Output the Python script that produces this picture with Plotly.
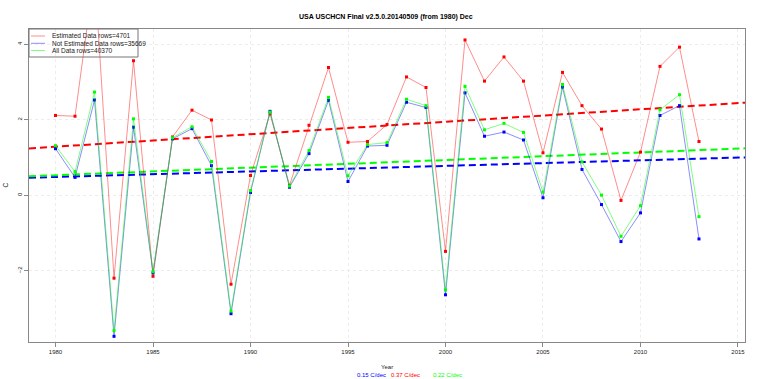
import numpy as np
import plotly.graph_objects as go

years = list(range(1980, 2014))

estimated = [2.11, 2.09, 5.9, -2.20, 3.56, -2.15, 1.54, 2.25, 1.99, -2.36,
             0.52, 2.15, 0.26, 1.85, 3.38, 1.40, 1.42, 1.87, 3.13, 2.85,
             -1.49, 4.11, 3.02, 3.66, 3.02, 1.12, 3.25, 2.37, 1.75, -0.14,
             1.14, 3.41, 3.92, 1.42]
not_estimated = [1.23, 0.47, 2.52, -3.74, 1.80, -2.06, 1.49, 1.76, 0.78, -3.14,
                 0.07, 2.22, 0.21, 1.10, 2.51, 0.36, 1.30, 1.32, 2.46, 2.32,
                 -2.64, 2.71, 1.56, 1.67, 1.46, -0.07, 2.86, 0.68, -0.25, -1.23,
                 -0.47, 2.11, 2.37, -1.16]
all_data = [1.31, 0.62, 2.73, -3.59, 2.02, -2.03, 1.52, 1.81, 0.89, -3.07,
            0.12, 2.20, 0.24, 1.18, 2.59, 0.51, 1.34, 1.39, 2.54, 2.37,
            -2.51, 2.88, 1.73, 1.90, 1.66, 0.08, 2.93, 0.88, 0.00, -1.09,
            -0.28, 2.26, 2.66, -0.57]

series_names = ["Estimated Data rows=4701", "Not Estimated Data rows=35669", "All Data rows=40370"]
trend_labels = ["0.37 C/dec", "0.15 C/dec", "0.22 C/dec"]
x_ticks = [1980, 1985, 1990, 1995, 2000, 2005, 2010, 2015]
y_ticks = [-2, 0, 2, 4]
title = "USA USCHCN Final v2.5.0.20140509 (from 1980) Dec"

W, H = 760, 379
L, R, T, B = 29, 745, 29, 342
xr = [1978.64, 2015.36]
yr = [-3.89, 4.40]

def px(x):
    return (x - L) / (R - L)

def py(y):
    return (B - y) / (B - T)

solid = ["#ff0000", "#0000ff", "#00ff00"]
light = ["rgba(255,0,0,0.45)", "rgba(0,0,255,0.45)", "rgba(0,255,0,0.5)"]

fig = go.Figure()
data = [estimated, not_estimated, all_data]

# trend lines (least squares fit of each series)
for i, vals in enumerate(data):
    k, b = np.polyfit(years, vals, 1)
    xs = np.array(xr)
    fig.add_trace(go.Scatter(x=xs, y=k * xs + b, mode="lines",
                             line=dict(color=solid[i], width=2, dash="7px,4px"),
                             showlegend=False, hoverinfo="skip"))

for i, vals in enumerate(data):
    fig.add_trace(go.Scatter(x=years, y=vals, mode="lines+markers",
                             line=dict(color=light[i], width=1),
                             marker=dict(color=solid[i], size=3, symbol="square"),
                             name=series_names[i], showlegend=False))

shapes = []
annotations = []
# legend box
shapes.append(dict(type="rect", xref="paper", yref="paper",
                   x0=px(29), x1=px(138), y0=py(57), y1=py(29),
                   line=dict(color="#777777", width=1), fillcolor="rgba(0,0,0,0)"))
rows = [36, 43.3, 50.5]
for i in range(3):
    shapes.append(dict(type="line", xref="paper", yref="paper",
                       x0=px(31), x1=px(45), y0=py(rows[i]), y1=py(rows[i]),
                       line=dict(color=light[i], width=1)))
    annotations.append(dict(xref="paper", yref="paper", x=px(50), y=py(rows[i]),
                            text=series_names[i], showarrow=False,
                            xanchor="left", yanchor="middle",
                            font=dict(size=6.5, color="#222222")))

annotations.append(dict(xref="paper", yref="paper", x=px(386), y=py(17),
                        text="<b>" + title + "</b>", showarrow=False,
                        xanchor="center", yanchor="middle",
                        font=dict(size=7, color="#000000")))
annotations.append(dict(xref="paper", yref="paper", x=px(387), y=py(367),
                        text="Year", showarrow=False, xanchor="center", yanchor="middle",
                        font=dict(size=6, color="#222222")))
annotations.append(dict(xref="paper", yref="paper", x=px(5), y=py(185.5),
                        text="C", showarrow=False, xanchor="center", yanchor="middle",
                        textangle=-90, font=dict(size=6.5, color="#222222")))
tl_x = [405.5, 371, 447.5]
for i in range(3):
    annotations.append(dict(xref="paper", yref="paper", x=px(tl_x[i]), y=py(375),
                            text=trend_labels[i], showarrow=False,
                            xanchor="center", yanchor="middle",
                            font=dict(size=6, color=solid[i])))

axis_common = dict(showline=True, linecolor="#888888", linewidth=1, mirror=True,
                   ticks="outside", ticklen=4, tickcolor="#888888",
                   showgrid=True, gridcolor="#ececec", griddash="dot", gridwidth=1,
                   zeroline=False, automargin=False,
                   tickfont=dict(size=6, color="#222222", family="Liberation Sans, Arial"))

fig.update_layout(
    width=W, height=H,
    margin=dict(l=L, r=W - R, t=T, b=H - B, pad=0),
    plot_bgcolor="white", paper_bgcolor="white",
    font=dict(family="Liberation Sans, Arial, sans-serif"),
    xaxis=dict(range=xr, tickvals=x_ticks, **axis_common),
    yaxis=dict(range=yr, tickvals=y_ticks, tickangle=-90, **axis_common),
    shapes=shapes, annotations=annotations, showlegend=False,
)

fig.write_html("out.html", config={"displayModeBar": False},
               post_script="document.body.style.margin='0px';document.body.style.overflow='hidden';")
